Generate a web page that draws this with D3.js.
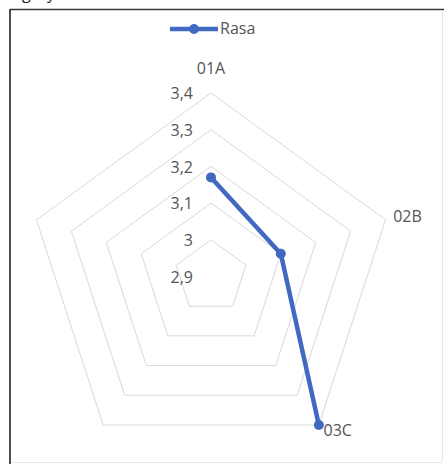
<!DOCTYPE html>
<html>
<head>
<meta charset="utf-8">
<script src="https://cdn.jsdelivr.net/npm/d3@7"></script>
<style>
  html, body { margin: 0; padding: 0; background: #fff; }
  svg { display: block; }
  text { font-family: "Open Sans", "Noto Sans", sans-serif; fill: #555; }
</style>
</head>
<body>
<svg id="chart" width="444" height="464"></svg>
<script>
// Radar categories (five spokes; the last two are unnamed and have no value)
const categories = ["01A", "02B", "03C", "", ""];
// Series "Rasa"
const seriesName = "Rasa";
const seriesValues = [3.17, 3.1, 3.4, null, null];
// Radial axis ticks and their labels
const tickValues = [2.9, 3.0, 3.1, 3.2, 3.3, 3.4];
const tickLabels = ["2,9", "3", "3,1", "3,2", "3,3", "3,4"];

const W = 444, H = 464;
const cx = 211, cy = 276.5, R = 183.5;
const blue = "#4169c1";
const fs = 16;

const svg = d3.select("#chart");

// Chart frame (left and top edges dark, right/bottom edges faint)
svg.append("line").attr("x1", 10).attr("y1", 9.5).attr("x2", W).attr("y2", 9.5)
  .attr("stroke", "#3a3a3a").attr("stroke-width", 1.6);
svg.append("line").attr("x1", 10).attr("y1", 9).attr("x2", 10).attr("y2", H)
  .attr("stroke", "#3a3a3a").attr("stroke-width", 1.8);
svg.append("line").attr("x1", 442.5).attr("y1", 12).attr("x2", 442.5).attr("y2", 462)
  .attr("stroke", "#e6e6e6").attr("stroke-width", 1);
svg.append("line").attr("x1", 12).attr("y1", 462.5).attr("x2", 442.5).attr("y2", 462.5)
  .attr("stroke", "#e6e6e6").attr("stroke-width", 1);

// Descenders of a caption line that sits above the frame
svg.append("text").attr("x", 22).attr("y", -1).attr("font-size", 16).style("fill", "#222").text("g");
svg.append("text").attr("x", 47).attr("y", -1).attr("font-size", 16).style("fill", "#222").text("y");

const r = d3.scaleLinear().domain([tickValues[0], tickValues[tickValues.length - 1]]).range([0, R]);
const n = categories.length;
const angle = d3.scaleLinear().domain([0, n]).range([0, 2 * Math.PI]);

const pt = (i, radius) => [cx + radius * Math.sin(angle(i)), cy - radius * Math.cos(angle(i))];

// Grid rings
const ringLine = d3.line().curve(d3.curveLinearClosed);
svg.append("g").selectAll("path")
  .data(tickValues.slice(1))
  .join("path")
  .attr("d", t => ringLine(d3.range(n).map(i => pt(i, r(t)))))
  .attr("fill", "none")
  .attr("stroke", "#d9d9d9")
  .attr("stroke-width", 1);

// Radial axis labels
svg.append("g").selectAll("text")
  .data(tickValues)
  .join("text")
  .attr("x", cx - 18)
  .attr("y", t => cy - r(t) + 2)
  .attr("text-anchor", "end")
  .attr("dominant-baseline", "middle")
  .attr("font-size", fs)
  .text((t, i) => tickLabels[i]);

// Category labels
svg.append("g").selectAll("text")
  .data(categories)
  .join("text")
  .each(function (c, i) {
    const s = Math.sin(angle(i));
    const top = Math.abs(s) < 0.1;
    const [x, y] = pt(i, R + (top ? 23 : 8));
    d3.select(this)
      .attr("x", x).attr("y", y)
      .attr("text-anchor", top ? "middle" : (s > 0 ? "start" : "end"))
      .attr("dominant-baseline", "middle")
      .attr("font-size", fs)
      .text(c);
  });

// Series line and markers
const pts = seriesValues.map((v, i) => ({ i, v })).filter(d => d.v != null);
const seriesLine = d3.line()
  .defined(d => d.v != null)
  .x(d => pt(d.i, r(d.v))[0])
  .y(d => pt(d.i, r(d.v))[1]);
svg.append("path")
  .attr("d", seriesLine(seriesValues.map((v, i) => ({ i, v }))))
  .attr("fill", "none")
  .attr("stroke", blue)
  .attr("stroke-width", 4.5)
  .attr("stroke-linejoin", "round");
svg.append("g").selectAll("circle")
  .data(pts)
  .join("circle")
  .attr("cx", d => pt(d.i, r(d.v))[0])
  .attr("cy", d => pt(d.i, r(d.v))[1])
  .attr("r", 5)
  .attr("fill", blue);

// Legend
const lg = svg.append("g");
lg.append("line").attr("x1", 170).attr("x2", 218).attr("y1", 29).attr("y2", 29)
  .attr("stroke", blue).attr("stroke-width", 4.5);
lg.append("circle").attr("cx", 194).attr("cy", 29).attr("r", 5).attr("fill", blue);
lg.append("text").attr("x", 220).attr("y", 30).attr("dominant-baseline", "middle")
  .attr("font-size", fs).text(seriesName);
</script>
</body>
</html>
